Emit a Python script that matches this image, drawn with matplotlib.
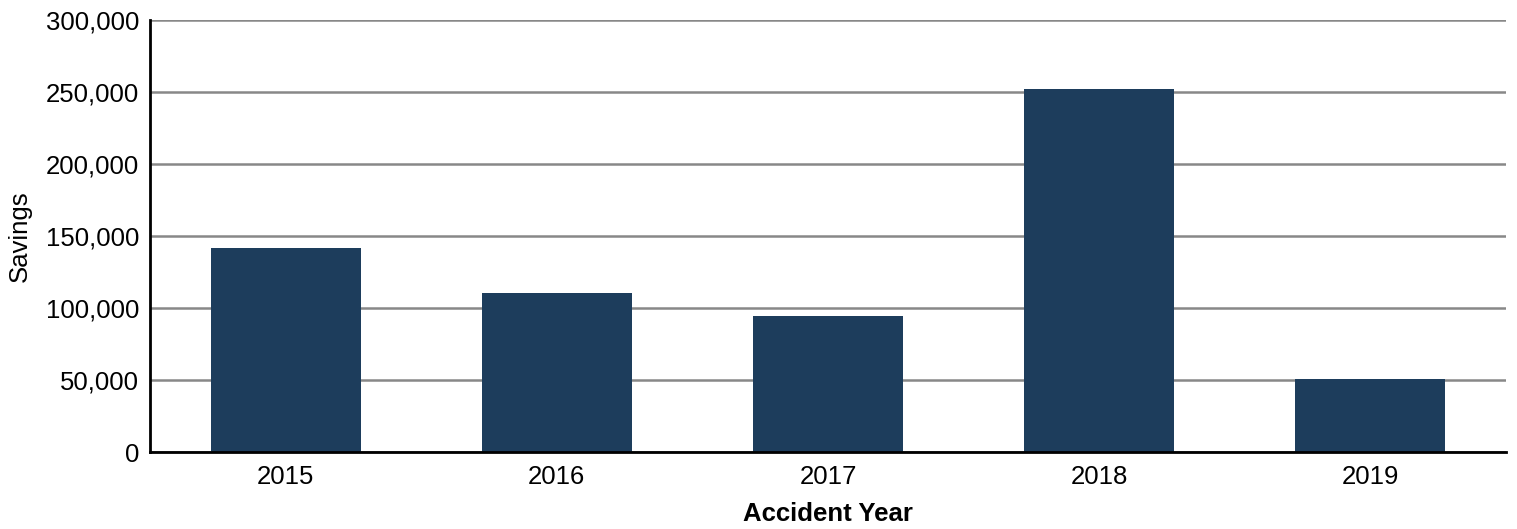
import numpy as np
import matplotlib
matplotlib.use('Agg')
import matplotlib.pyplot as plt
from matplotlib.ticker import FuncFormatter

years = ['2015', '2016', '2017', '2018', '2019']
savings = [141500, 110300, 94300, 252000, 50500]

plt.rcParams['font.family'] = ['Liberation Sans', 'DejaVu Sans']

fig = plt.figure(figsize=(15.17, 5.29), dpi=100)
ax = fig.add_axes([150 / 1517, 77 / 529, 1356 / 1517, 432 / 529])

x = np.arange(len(years))
ax.bar(x, savings, width=0.553, color='#1d3d5c', zorder=3)

ax.set_xlim(-0.5, len(years) - 0.5)
ax.set_ylim(0, 300000)
ax.set_yticks(np.arange(0, 300001, 50000))
ax.yaxis.set_major_formatter(FuncFormatter(lambda v, p: f'{int(v):,}'))
ax.set_xticks(x)
ax.set_xticklabels(years)

ax.grid(axis='y', color='#888888', linewidth=1.8, zorder=0)
ax.set_axisbelow(True)
ax.tick_params(axis='both', length=0, labelsize=18.5, colors='black')
ax.tick_params(axis='x', pad=9)
ax.tick_params(axis='y', pad=8)

for s in ['top', 'right']:
    ax.spines[s].set_visible(False)
for s in ['left', 'bottom']:
    ax.spines[s].set_linewidth(2)
    ax.spines[s].set_color('black')
    ax.spines[s].set_zorder(4)

ax.set_xlabel('Accident Year', fontsize=18.5, fontweight='bold', labelpad=10)
ax.set_ylabel('Savings', fontsize=18.5, labelpad=10)

fig.savefig('out.png', dpi=100)
